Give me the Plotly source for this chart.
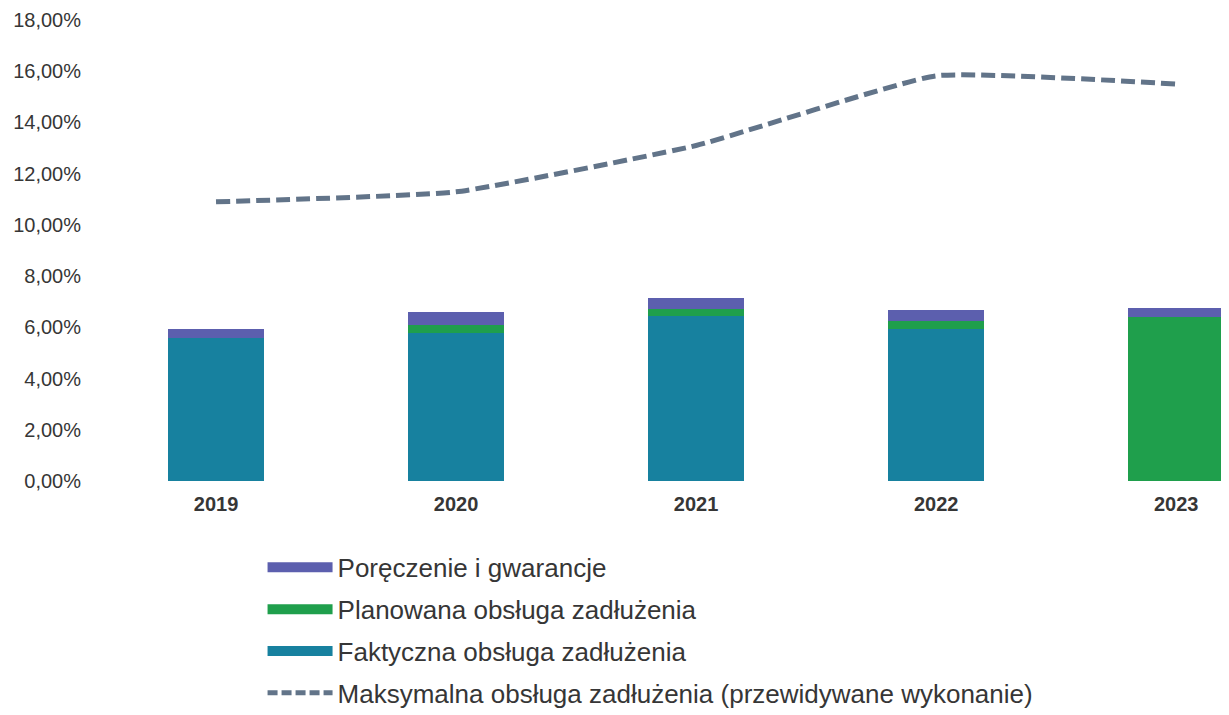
import plotly.graph_objects as go

years = ["2019", "2020", "2021", "2022", "2023"]
faktyczna = [5.59, 5.78, 6.45, 5.94, 0.0]
planowana = [0.0, 0.31, 0.27, 0.31, 6.40]
poreczenie = [0.35, 0.50, 0.43, 0.43, 0.35]
maksymalna = [10.90, 11.29, 13.10, 15.82, 15.50]

names = {
    "por": "Poręczenie i gwarancje",
    "plan": "Planowana obsługa zadłużenia",
    "fakt": "Faktyczna obsługa zadłużenia",
    "max": "Maksymalna obsługa zadłużenia (przewidywane wykonanie)",
}
c_fakt = "#17819f"
c_plan = "#1f9f4c"
c_por = "#5c5fae"
c_max = "#627489"
txt = "#363636"

fig = go.Figure()
bw = 0.4
for vals, col in [(faktyczna, c_fakt), (planowana, c_plan), (poreczenie, c_por)]:
    fig.add_trace(go.Bar(x=years, y=vals, marker=dict(color=col, line=dict(width=0)),
                         width=bw, showlegend=False))
fig.add_trace(go.Scatter(x=years, y=maksymalna, mode="lines",
                         line=dict(color=c_max, width=5, dash="14px,6px", shape="spline", smoothing=0.4),
                         showlegend=False))

# legend entries
for rank, (key, col, dash, w) in enumerate([("por", c_por, "solid", 10), ("plan", c_plan, "solid", 10),
                                            ("fakt", c_fakt, "solid", 10), ("max", c_max, "10px,4px", 5)]):
    fig.add_trace(go.Scatter(x=[None], y=[None], mode="lines", name=names[key],
                             line=dict(color=col, width=w, dash=dash),
                             legendgroup=key, legendrank=rank + 1))

fig.update_layout(
    width=1229, height=715,
    barmode="stack",
    plot_bgcolor="white", paper_bgcolor="white",
    separators=",.",
    font=dict(family="Liberation Sans, Arial", color=txt),
    margin=dict(l=88, r=8, t=12, b=242, autoexpand=False),
    xaxis=dict(range=[-0.5, 4.22], showgrid=False, showline=False, ticks="",
               tickfont=dict(size=20, color=txt, weight="bold"), ticklabelstandoff=9,
               automargin=False),
    yaxis=dict(range=[0, 18], dtick=2, tickformat=".2f", ticksuffix="%", showgrid=False,
               zeroline=False, showline=False, tickfont=dict(size=20, color=txt),
               ticklabelstandoff=14, automargin=False),
    legend=dict(x=0.147, y=-0.1365, xanchor="left", yanchor="top", orientation="v",
                traceorder="grouped", tracegroupgap=5, itemwidth=65,
                font=dict(size=26, color=txt)),
)

fig.write_html("out.html")
